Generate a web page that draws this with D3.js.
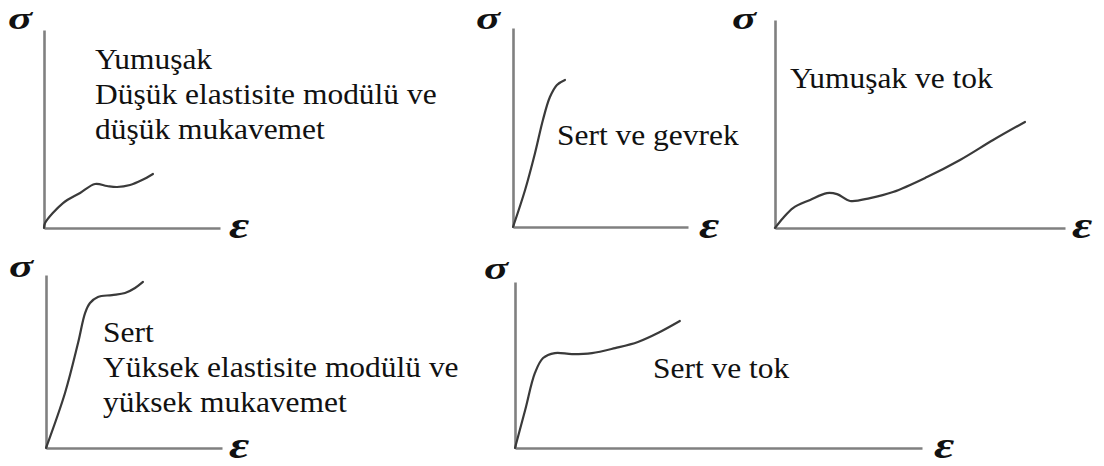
<!DOCTYPE html>
<html><head><meta charset="utf-8">
<script src="https://cdn.jsdelivr.net/npm/d3@7"></script>
<style>
html,body{margin:0;padding:0;background:#fff;}
svg{display:block;}
</style></head>
<body>
<svg id="c" width="1104" height="466"></svg>
<script>
// ---- data (normalized strain, stress, 0..10 per panel) ----
const curveSoftWeak = [[0,0],[0.06,0.25],[1.08,1.26],[2.05,1.77],[2.90,2.22],[3.58,2.12],[4.15,2.07],[4.89,2.17],[5.57,2.42],[6.19,2.73]];
const curveHardBrittle = [[0,0],[0.69,1.86],[1.26,3.72],[1.71,5.38],[2.11,6.53],[2.51,7.14],[2.97,7.39]];
const curveSoftTough = [[0,0],[0.28,0.48],[0.62,0.96],[1.21,1.35],[1.79,1.68],[2.14,1.63],[2.59,1.30],[3.28,1.44],[4.07,1.73],[5.24,2.45],[6.38,3.27],[7.52,4.23],[8.62,5.10]];
const curveHardStrong = [[0,0],[1.08,3.18],[1.82,6.07],[2.22,7.80],[2.50,8.38],[2.95,8.73],[3.75,8.84],[4.49,8.96],[5.06,9.25],[5.51,9.60]];
const curveHardTough = [[0,0],[0.25,2.29],[0.49,4.52],[0.69,5.42],[0.98,5.72],[1.40,5.66],[1.89,5.72],[2.46,6.02],[3.02,6.39],[3.56,6.99],[4.05,7.65]];

const labelSoftWeak = ["Yumuşak","Düşük elastisite modülü ve","düşük mukavemet"];
const labelHardBrittle = ["Sert ve gevrek"];
const labelSoftTough = ["Yumuşak ve tok"];
const labelHardStrong = ["Sert","Yüksek elastisite modülü ve","yüksek mukavemet"];
const labelHardTough = ["Sert ve tok"];

const yAxisLabel = "σ";
const xAxisLabel = "ε";
const axisDomain = [0,10];

// ---- layout ----
const panels = [
  {curve:curveSoftWeak, label:labelSoftWeak, x0:44, x1:220, y0:228, y1:30, tx:95, ty:69, sx:8, sy:29, ex:229, ey:238},
  {curve:curveHardBrittle, label:labelHardBrittle, x0:513, x1:688, y0:227, y1:28, tx:557, ty:145, sx:476, sy:29, ex:699, ey:238},
  {curve:curveSoftTough, label:labelSoftTough, x0:775, x1:1065, y0:228, y1:20, tx:790, ty:88, sx:732, sy:29, ex:1072, ey:238},
  {curve:curveHardStrong, label:labelHardStrong, x0:46, x1:222, y0:448, y1:275, tx:103, ty:342, sx:9, sy:277, ex:229, ey:458},
  {curve:curveHardTough, label:labelHardTough, x0:515, x1:922, y0:448, y1:282, tx:653, ty:378, sx:484, sy:279, ex:934, ey:458}
];
const lineGap = 35;
const serif = "'Liberation Serif', 'DejaVu Serif', serif";

const svg = d3.select("#c");
panels.forEach(p => {
  const x = d3.scaleLinear().domain(axisDomain).range([p.x0, p.x1]);
  const y = d3.scaleLinear().domain(axisDomain).range([p.y0, p.y1]);
  const g = svg.append("g");
  const ax = g.append("g").attr("transform", `translate(0,${p.y0})`)
    .call(d3.axisBottom(x).tickValues([]).tickSizeOuter(0));
  const ay = g.append("g").attr("transform", `translate(${p.x0},0)`)
    .call(d3.axisLeft(y).tickValues([]).tickSizeOuter(0));
  [ax, ay].forEach(a => a.select(".domain").attr("stroke", "#808080").attr("stroke-width", 2.6));
  g.append("path").datum(p.curve)
    .attr("fill","none").attr("stroke","#3a3a3a").attr("stroke-width",2.2)
    .attr("stroke-linecap","round")
    .attr("d", d3.line().x(d=>x(d[0])).y(d=>y(d[1])).curve(d3.curveCatmullRom.alpha(0.5)));
  g.append("text").attr("x",0).attr("y",0).text(yAxisLabel)
    .style("font-family", serif).style("font-style","italic").style("font-weight","bold")
    .style("font-size","32px").attr("fill","#111")
    .attr("transform",`translate(${p.sx},${p.sy}) scale(1.4,1)`);
  g.append("text").attr("x",0).attr("y",0).text(xAxisLabel)
    .style("font-family", serif).style("font-style","italic").style("font-weight","bold")
    .style("font-size","38px").attr("fill","#111")
    .attr("transform",`translate(${p.ex},${p.ey}) scale(1.3,1)`);
  p.label.forEach((t,i) => {
    g.append("text").attr("x",0).attr("y",0).text(t)
      .style("font-family", serif).style("font-size","29px").attr("fill","#111")
      .attr("transform",`translate(${p.tx},${p.ty + i*lineGap}) scale(1.085,1)`);
  });
});
</script>
</body></html>
